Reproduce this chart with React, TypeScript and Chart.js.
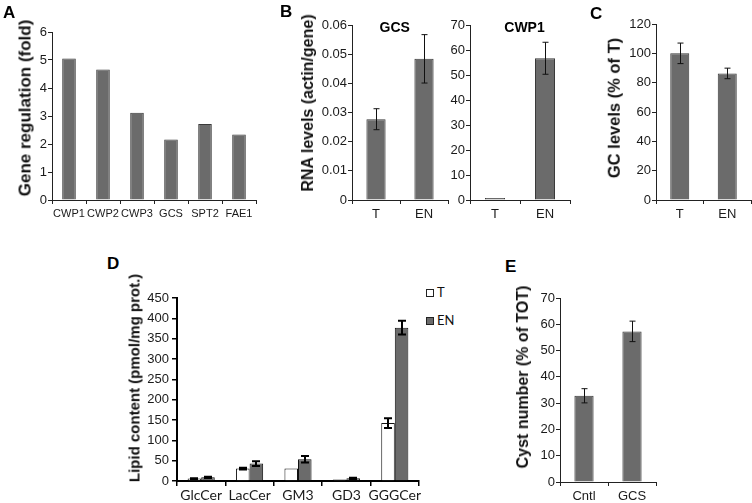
import React, { useEffect, useRef } from 'react';
import { Chart, registerables } from 'chart.js';

Chart.register(...registerables);

// ---------- Panel A ----------
const geneCategories = ['CWP1', 'CWP2', 'CWP3', 'GCS', 'SPT2', 'FAE1'];
const geneFold = [5.05, 4.66, 3.12, 2.16, 2.71, 2.34];

// ---------- Panel B ----------
const rnaCategories = ['T', 'EN'];
const gcsRna = [0.0277, 0.0484];
const gcsRnaErr = [0.0036, 0.0083];
const cwp1Rna = [0.8, 56.7];
const cwp1RnaErr = [0, 6.4];

// ---------- Panel C ----------
const gcCategories = ['T', 'EN'];
const gcLevels = [100, 86.3];
const gcErr = [7, 3.6];

// ---------- Panel D ----------
const lipidCategories = ['GlcCer', 'LacCer', 'GM3', 'GD3', 'GGGCer'];
const lipidSeries = ['T', 'EN'];
const lipidT = [6, 30.5, 30.5, 3.5, 142.6];
const lipidTErr = [1, 2, 0, 0, 12];
const lipidEN = [9, 42.8, 53.4, 6.6, 377];
const lipidENErr = [1.5, 6, 8, 1.5, 17];

// ---------- Panel E ----------
const cystCategories = ['Cntl', 'GCS'];
const cystNumber = [32.8, 57.3];
const cystErr = [2.7, 3.9];

const ARIAL = '"Liberation Sans", Arial, Helvetica, sans-serif';
const CALIBRI = 'Lato, "Open Sans", sans-serif';
const GRAY = '#6b6b6b';
const GRAY_BORDER = '#3a3a3a';
const INK = '#1a1a1a';

const errorBarPlugin = {
  id: 'errorBars',
  afterDatasetsDraw(chart: any, _args: any, opts: any) {
    const { ctx } = chart;
    chart.data.datasets.forEach((ds: any, di: number) => {
      const errs = ds.errors;
      if (!errs) return;
      const meta = chart.getDatasetMeta(di);
      const yScale = chart.scales[meta.yAxisID];
      ctx.save();
      ctx.strokeStyle = opts.color || '#111';
      ctx.lineWidth = opts.width || 1;
      meta.data.forEach((bar: any, i: number) => {
        const e = errs[i];
        if (!e) return;
        const v = ds.data[i];
        const x = Math.round(bar.x) + (opts.width % 2 === 1 ? 0.5 : 0);
        const yTop = yScale.getPixelForValue(v + e);
        const yBot = yScale.getPixelForValue(v - e);
        const c = (opts.cap || 6) / 2;
        ctx.beginPath();
        ctx.moveTo(x, yTop);
        ctx.lineTo(x, yBot);
        ctx.moveTo(x - c, yTop);
        ctx.lineTo(x + c, yTop);
        ctx.moveTo(x - c, yBot);
        ctx.lineTo(x + c, yBot);
        ctx.stroke();
      });
      ctx.restore();
    });
  },
};

function barConfig(p: any) {
  const axisColor = p.axisColor || '#222';
  const fmt = (v: any) => String(+(+v).toFixed(4));
  return {
    type: 'bar',
    data: { labels: p.labels, datasets: p.datasets },
    options: {
      animation: false,
      responsive: false,
      events: [],
      layout: { padding: { top: p.padTop, right: p.padRight, left: 0, bottom: 0 } },
      plugins: {
        legend: { display: false },
        tooltip: { enabled: false },
        title: { display: false },
        errorBars: p.err,
      },
      scales: {
        x: {
          type: 'category',
          offset: true,
          grid: {
            display: true,
            offset: true,
            drawOnChartArea: false,
            drawTicks: true,
            tickLength: p.tickLen ?? 4,
            color: axisColor,
            lineWidth: p.tickW ?? 1,
          },
          border: { display: true, color: axisColor, width: p.axisW ?? 1 },
          ticks: {
            autoSkip: false,
            maxRotation: 0,
            minRotation: 0,
            padding: p.xPad ?? 3,
            font: p.xFont,
            color: INK,
          },
          afterFit: (s: any) => {
            s.height = p.xHeight;
          },
        },
        y: {
          type: 'linear',
          min: p.min,
          max: p.max,
          grid: {
            display: true,
            drawOnChartArea: false,
            drawTicks: true,
            tickLength: p.tickLen ?? 4,
            color: axisColor,
            lineWidth: p.tickW ?? 1,
          },
          border: { display: true, color: axisColor, width: p.axisW ?? 1 },
          ticks: {
            stepSize: p.step,
            padding: p.yPad ?? 1,
            font: p.yFont,
            color: INK,
            callback: fmt,
          },
          afterFit: (s: any) => {
            s.width = p.yWidth;
          },
        },
      },
    },
    plugins: [errorBarPlugin],
  };
}

function grayBars(data: number[], errors?: number[]) {
  return {
    data,
    errors,
    backgroundColor: GRAY,
    borderColor: GRAY_BORDER,
    borderWidth: 1,
    barPercentage: 0.4,
    categoryPercentage: 1,
  };
}

const tickFont = { family: ARIAL, size: 13 };
const smallErr = { color: '#111', width: 1, cap: 6 };

function ChartCanvas({ x, y, w, h, config }: any) {
  const ref = useRef<HTMLCanvasElement | null>(null);
  useEffect(() => {
    if (!ref.current) return;
    const chart = new Chart(ref.current, config);
    return () => chart.destroy();
  }, []);
  return (
    <canvas
      ref={ref}
      width={w}
      height={h}
      style={{ position: 'absolute', left: x, top: y, width: w, height: h, display: 'block' }}
    />
  );
}

function Letter({ x, y, text }: any) {
  return (
    <div
      style={{
        position: 'absolute',
        left: x,
        top: y,
        fontFamily: ARIAL,
        fontWeight: 'bold',
        fontSize: 17,
        lineHeight: '17px',
        color: '#000',
        whiteSpace: 'nowrap',
      }}
    >
      {text}
    </div>
  );
}

function YTitle({ cx, cy, size, text }: any) {
  return (
    <div
      style={{
        position: 'absolute',
        left: cx,
        top: cy,
        transform: 'translate(-50%, -50%) rotate(-90deg)',
        fontFamily: ARIAL,
        fontWeight: 'bold',
        fontSize: size,
        lineHeight: `${size}px`,
        color: '#111',
        whiteSpace: 'nowrap',
      }}
    >
      {text}
    </div>
  );
}

function CenterTitle({ cx, y, text }: any) {
  return (
    <div
      style={{
        position: 'absolute',
        left: cx - 50,
        width: 100,
        top: y,
        textAlign: 'center',
        fontFamily: ARIAL,
        fontWeight: 'bold',
        fontSize: 14,
        lineHeight: '14px',
        color: '#000',
      }}
    >
      {text}
    </div>
  );
}

export default function App() {
  const configA = barConfig({
    labels: geneCategories,
    datasets: [grayBars(geneFold)],
    min: 0, max: 6, step: 1,
    yWidth: 52, xHeight: 25, padTop: 32, padRight: 6,
    xFont: { family: ARIAL, size: 11 }, yFont: tickFont,
    err: smallErr,
  });
  const configGCS = barConfig({
    labels: rnaCategories,
    datasets: [grayBars(gcsRna, gcsRnaErr)],
    min: 0, max: 0.06, step: 0.01,
    yWidth: 32, xHeight: 25, padTop: 25, padRight: 2,
    xFont: tickFont, yFont: tickFont,
    err: smallErr,
  });
  const configCWP1 = barConfig({
    labels: rnaCategories,
    datasets: [grayBars(cwp1Rna, cwp1RnaErr)],
    min: 0, max: 70, step: 10,
    yWidth: 20, xHeight: 25, padTop: 25, padRight: 5,
    xFont: tickFont, yFont: tickFont,
    err: smallErr,
  });
  const configC = barConfig({
    labels: gcCategories,
    datasets: [grayBars(gcLevels, gcErr)],
    min: 0, max: 120, step: 20,
    yWidth: 36, xHeight: 25, padTop: 24, padRight: 1,
    xFont: tickFont, yFont: tickFont,
    err: smallErr,
  });
  const configD = barConfig({
    labels: lipidCategories,
    datasets: [
      {
        label: lipidSeries[0],
        data: lipidT,
        errors: lipidTErr,
        backgroundColor: '#ffffff',
        borderColor: '#111',
        borderWidth: 1,
        barPercentage: 1,
        categoryPercentage: 0.56,
      },
      {
        label: lipidSeries[1],
        data: lipidEN,
        errors: lipidENErr,
        backgroundColor: GRAY,
        borderColor: '#111',
        borderWidth: 1,
        barPercentage: 1,
        categoryPercentage: 0.56,
      },
    ],
    min: 0, max: 450, step: 50,
    yWidth: 47, xHeight: 22, padTop: 23, padRight: 6,
    axisColor: '#000', axisW: 2, tickW: 1.5, tickLen: 5, yPad: 3, xPad: 1,
    xFont: { family: CALIBRI, size: 14 }, yFont: tickFont,
    err: { color: '#000', width: 2, cap: 8 },
  });
  const configE = barConfig({
    labels: cystCategories,
    datasets: [grayBars(cystNumber, cystErr)],
    min: 0, max: 70, step: 10,
    yWidth: 30, xHeight: 21, padTop: 23, padRight: 4,
    xFont: tickFont, yFont: tickFont,
    err: smallErr,
  });

  return (
    <div style={{ position: 'absolute', left: 0, top: 0, width: 752, height: 503, background: '#fff', overflow: 'hidden' }}>
      <ChartCanvas x={0} y={0} w={262} h={225} config={configA} />
      <ChartCanvas x={320} y={0} w={130} h={225} config={configGCS} />
      <ChartCanvas x={450} y={0} w={125} h={225} config={configCWP1} />
      <ChartCanvas x={620} y={0} w={132} h={225} config={configC} />
      <ChartCanvas x={130} y={275} w={295} h={228} config={configD} />
      <ChartCanvas x={530} y={275} w={130} h={228} config={configE} />

      <Letter x={3} y={4} text="A" />
      <Letter x={280} y={3} text="B" />
      <Letter x={590} y={4.5} text="C" />
      <Letter x={107} y={254.5} text="D" />
      <Letter x={505} y={258} text="E" />

      <YTitle cx={24.9} cy={108} size={17} text="Gene regulation (fold)" />
      <YTitle cx={307.5} cy={103} size={16} text="RNA levels (actin/gene)" />
      <YTitle cx={613.5} cy={107.5} size={16.5} text="GC levels (% of T)" />
      <YTitle cx={133.6} cy={377.5} size={15} text="Lipid content (pmol/mg prot.)" />
      <YTitle cx={523} cy={376.7} size={16} text="Cyst number (% of TOT)" />

      <CenterTitle cx={394.7} y={20.2} text="GCS" />
      <CenterTitle cx={524.5} y={20.2} text="CWP1" />

      {/* Legend of panel D */}
      <div style={{ position: 'absolute', left: 426, top: 288.5, width: 8, height: 8, boxSizing: 'border-box', border: '1px solid #222', background: '#fff' }} />
      <div style={{ position: 'absolute', left: 437, top: 285.5, fontFamily: CALIBRI, fontSize: 13, lineHeight: '13px', color: '#111' }}>{lipidSeries[0]}</div>
      <div style={{ position: 'absolute', left: 426, top: 316.5, width: 8, height: 8, boxSizing: 'border-box', border: '1px solid #222', background: GRAY }} />
      <div style={{ position: 'absolute', left: 437, top: 313.5, fontFamily: CALIBRI, fontSize: 13, lineHeight: '13px', color: '#111' }}>{lipidSeries[1]}</div>
    </div>
  );
}
